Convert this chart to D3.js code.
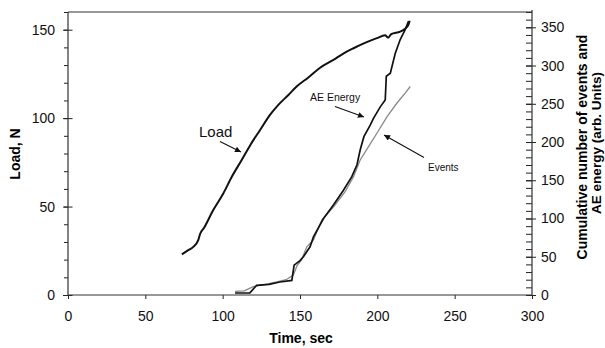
<!DOCTYPE html>
<html>
<head>
<meta charset="utf-8">
<script src="https://cdn.jsdelivr.net/npm/d3@7"></script>
<style>
body{margin:0;background:#fff}
svg{display:block}
text{font-family:Arial,"Liberation Sans",sans-serif}
</style>
</head>
<body>
<svg id="svg" width="605" height="348"></svg>
<script>
// load curve (left axis, N)
var loadTime = [73.6, 78, 81, 84.2, 85.4, 88, 93.9, 100.4, 106, 112.3, 118, 124.2, 130.6, 136, 142.5, 148, 155.4, 163, 171.6, 178, 184.6, 192, 199.7, 205, 207, 209, 214.8, 218, 220.2, 220.9];
var loadVal  = [23, 25.5, 27.2, 31, 34.5, 38, 48, 57.4, 67, 76.3, 85, 93.3, 101.8, 107.5, 113.1, 118, 123, 128.5, 132.9, 136.5, 139.5, 142.5, 145.2, 146.8, 145.5, 147.5, 148.9, 150.5, 153, 155];

// AE energy (right axis)
var energyTime = [108, 113, 117.6, 122, 130, 137, 144.7, 146.2, 150, 152.2, 156.5, 158.7, 165.2, 171.6, 178.1, 183.5, 186.8, 188.9, 191.3, 195.4, 197.5, 201.9, 205.1, 205.8, 208.4, 211.6, 214.8, 218, 220.2];
var energyVal  = [2.6, 2.6, 2.8, 12.7, 14, 17, 19, 39, 45, 50, 63, 76, 100, 117.6, 137, 154.7, 170, 189.6, 207, 222, 231, 246, 255, 286, 290, 316, 334, 347, 358];

// cumulative events (right axis)
var eventsTime = [108, 114, 119.8, 127, 135, 141, 145.7, 148, 151, 154.4, 158.7, 164.1, 171.6, 179.2, 184.6, 188.9, 194.3, 199.7, 206.2, 212.7, 218, 221.3];
var eventsVal  = [4.8, 5.5, 11, 13.5, 17, 20, 26, 38, 46, 63, 72, 98, 115, 135, 154.7, 176.5, 194, 211.5, 233, 251, 264, 272.6];

var xTicks = [0, 50, 100, 150, 200, 250, 300];
var leftTicks = [0, 50, 100, 150];
var rightTicks = [0, 50, 100, 150, 200, 250, 300, 350];

var L = 68, R = 532, T = 12, B = 295;

var s = d3.select('#svg');

var x = d3.scaleLinear().domain([0, 300]).range([L, R]);
var yL = d3.scaleLinear().domain([0, 160]).range([B, T]);
var yR = d3.scaleLinear().domain([0, 370]).range([B, T]);

// minor ticks
s.append('g')
    .attr('transform', 'translate(' + L + ',0)')
    .call(d3.axisLeft(yL).tickValues(d3.range(0, 161, 10)).tickSize(4).tickFormat(''))
    .call(function(g){ g.select('.domain').remove(); });
s.append('g')
    .attr('transform', 'translate(' + R + ',0)')
    .call(d3.axisLeft(yR).tickValues(d3.range(0, 371, 10)).tickSize(6).tickFormat(''))
    .call(function(g){ g.select('.domain').remove(); });

// major ticks + labels
var gl = s.append('g')
    .attr('transform', 'translate(' + L + ',0)')
    .call(d3.axisLeft(yL).tickValues(leftTicks).tickSize(5).tickPadding(8))
    .call(function(g){ g.select('.domain').remove(); });
gl.selectAll('.tick line').attr('x2', -5).attr('x1', 4.5);

var gr = s.append('g')
    .attr('transform', 'translate(' + R + ',0)')
    .call(d3.axisRight(yR).tickValues(rightTicks).tickSize(4).tickPadding(5))
    .call(function(g){ g.select('.domain').remove(); });
gr.selectAll('.tick line').attr('x1', -6);

var gb = s.append('g')
    .attr('transform', 'translate(0,' + B + ')')
    .call(d3.axisBottom(x).tickValues(xTicks).tickSize(4).tickPadding(12))
    .call(function(g){ g.select('.domain').remove(); });

s.selectAll('.tick text').attr('font-size', 14).attr('font-family', 'Arial, Liberation Sans, sans-serif').attr('fill', '#111');
s.selectAll('.tick line').attr('stroke', '#222');

// frame
s.append('path')
    .attr('d', 'M' + L + ',' + T + 'H' + R + 'M' + L + ',' + T + 'V' + B + 'H' + R + 'M' + R + ',' + (T - 2) + 'V' + B)
    .attr('stroke', '#333')
    .attr('stroke-width', 1.2)
    .attr('fill', 'none');

// series
function pts(t, v){ return t.map(function(d, i){ return [d, v[i]]; }); }

s.append('path')
    .datum(pts(eventsTime, eventsVal))
    .attr('d', d3.line().x(function(d){ return x(d[0]); }).y(function(d){ return yR(d[1]); }))
    .attr('stroke', '#888')
    .attr('stroke-width', 1.3)
    .attr('fill', 'none');

s.append('path')
    .datum(pts(energyTime, energyVal))
    .attr('d', d3.line().x(function(d){ return x(d[0]); }).y(function(d){ return yR(d[1]); }))
    .attr('stroke', '#111')
    .attr('stroke-width', 1.7)
    .attr('fill', 'none');

s.append('path')
    .datum(pts(loadTime, loadVal))
    .attr('d', d3.line().curve(d3.curveMonotoneX).x(function(d){ return x(d[0]); }).y(function(d){ return yL(d[1]); }))
    .attr('stroke', '#111')
    .attr('stroke-width', 2)
    .attr('fill', 'none');

// annotations
s.append('defs').append('marker')
    .attr('id', 'arr')
    .attr('viewBox', '0 0 10 10')
    .attr('refX', 10).attr('refY', 5)
    .attr('markerWidth', 7).attr('markerHeight', 6)
    .attr('markerUnits', 'userSpaceOnUse')
    .attr('orient', 'auto')
    .append('path').attr('d', 'M0,0L10,5L0,10z').attr('fill', '#111');

var notes = [
    {text: 'Load', size: 15, tx: 199, ty: 136.5, a: [220, 141.5, 241, 152]},
    {text: 'AE Energy', size: 10.5, tx: 310, ty: 100.5, a: [335, 106.5, 364, 117]},
    {text: 'Events', size: 10, tx: 428, ty: 170.5, a: [424, 157.5, 384, 135]}
];
notes.forEach(function(n){
    s.append('text')
        .attr('x', n.tx).attr('y', n.ty)
        .attr('font-size', n.size)
        .attr('fill', '#111')
        .text(n.text);
    s.append('line')
        .attr('x1', n.a[0]).attr('y1', n.a[1])
        .attr('x2', n.a[2]).attr('y2', n.a[3])
        .attr('stroke', '#111')
        .attr('stroke-width', 1.1)
        .attr('marker-end', 'url(#arr)');
});

// axis titles
s.append('text')
    .attr('transform', 'translate(20,154) rotate(-90)')
    .attr('text-anchor', 'middle')
    .attr('font-size', 14).attr('font-weight', 'bold')
    .text('Load, N');

s.append('text')
    .attr('x', 301).attr('y', 343)
    .attr('text-anchor', 'middle')
    .attr('font-size', 14).attr('font-weight', 'bold')
    .text('Time, sec');

s.append('text')
    .attr('transform', 'translate(587,147) rotate(-90)')
    .attr('text-anchor', 'middle')
    .attr('font-size', 14).attr('font-weight', 'bold')
    .text('Cumulative number of events and');
s.append('text')
    .attr('transform', 'translate(601,143) rotate(-90)')
    .attr('text-anchor', 'middle')
    .attr('font-size', 13.5).attr('font-weight', 'bold')
    .text('AE energy (arb. Units)');
</script>
</body>
</html>
